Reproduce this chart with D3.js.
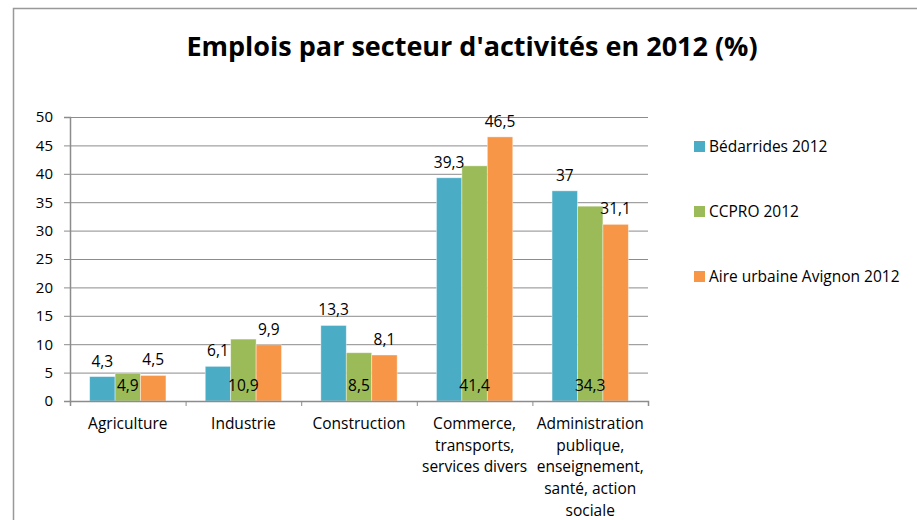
<html>
<head>
<meta charset="utf-8">
<title>Emplois par secteur</title>
<style type="text/css">
body { margin: 0; background: #fff; }
text { font-family: "Open Sans", "Noto Sans", sans-serif; fill: #000; }
</style>
</head>
<body>
<script src="https://d3js.org/d3.v7.min.js"></script>
<script>

// data
var categories = [
  ["Agriculture"],
  ["Industrie"],
  ["Construction"],
  ["Commerce,", "transports,", "services divers"],
  ["Administration", "publique,", "enseignement,", "santé, action", "sociale"]
];
var series = ["Bédarrides 2012", "CCPRO 2012", "Aire urbaine Avignon 2012"];
var bedarrides = [4.3, 6.1, 13.3, 39.3, 37];
var ccpro = [4.9, 10.9, 8.5, 41.4, 34.3];
var avignon = [4.5, 9.9, 8.1, 46.5, 31.1];
var yTicks = [0, 5, 10, 15, 20, 25, 30, 35, 40, 45, 50];

var values = [bedarrides, ccpro, avignon];
var colors = ["#4bacc6", "#9bbb59", "#f79646"];

var W = 917, H = 520;
var margin = {top: 117, left: 70, right: 269, bottom: 119};
var width = W - margin.left - margin.right,
    height = H - margin.top - margin.bottom;

var svg = d3.select("body").append("svg")
    .attr("width", W)
    .attr("height", H);

// outer frame (only left and top visible)
svg.append("path")
    .attr("d", "M13.5," + H + "V8.5H" + W)
    .attr("fill", "none")
    .attr("stroke", "#999")
    .attr("stroke-width", 1.5);

// title
svg.append("text")
    .attr("x", 472)
    .attr("y", 56)
    .attr("text-anchor", "middle")
    .style("font-weight", "bold")
    .style("font-size", "27px")
    .text("Emplois par secteur d'activités en 2012 (%)");

var g = svg.append("g")
    .attr("transform", "translate(" + margin.left + "," + margin.top + ")");

var x0 = d3.scaleBand()
    .domain(d3.range(categories.length))
    .range([0, width])
    .paddingInner(0.34)
    .paddingOuter(0.17);
var x1 = d3.scaleBand()
    .domain(d3.range(series.length))
    .range([0, x0.bandwidth()]);
var y = d3.scaleLinear()
    .domain([0, 50])
    .range([height, 0]);

// gridlines + y axis
g.append("g")
    .call(d3.axisLeft(y).tickValues(yTicks).tickSize(-width).tickFormat(""))
    .call(function(s) {
      s.select(".domain").remove();
      s.selectAll("line").attr("stroke", "#8c8c8c");
    });
g.append("g")
    .call(d3.axisLeft(y).tickValues(yTicks).tickSize(6).tickPadding(11))
    .call(function(s) {
      s.select(".domain").attr("stroke", "#8c8c8c").attr("stroke-width", 1.5);
      s.selectAll("line").attr("stroke", "#8c8c8c");
      s.selectAll("text").style("font-size", "15px").style("font-family", "'Open Sans', sans-serif");
    });

// bars
var groups = g.selectAll(".cat")
    .data(categories)
    .enter().append("g")
    .attr("transform", function(d, i) { return "translate(" + x0(i) + ",0)"; });

groups.selectAll("rect")
    .data(function(d, i) { return values.map(function(v, k) { return {k: k, v: v[i]}; }); })
    .enter().append("rect")
    .attr("x", function(d) { return x1(d.k); })
    .attr("width", x1.bandwidth())
    .attr("y", function(d) { return y(d.v); })
    .attr("height", function(d) { return height - y(d.v); })
    .attr("fill", function(d) { return colors[d.k]; })
    .attr("stroke", "#fff")
    .attr("stroke-opacity", 0.5)
    .attr("stroke-width", 0.8);

// value labels: blue and orange above, green inside at the bottom
groups.selectAll(".lbl")
    .data(function(d, i) { return values.map(function(v, k) { return {k: k, v: v[i]}; }); })
    .enter().append("text")
    .attr("class", "lbl")
    .attr("text-anchor", "middle")
    .attr("x", function(d) { return x1(d.k) + x1.bandwidth() / 2; })
    .attr("y", function(d) { return d.k === 1 ? height - 10 : y(d.v) - 10; })
    .style("font-size", "15.5px")
    .text(function(d) { return String(d.v).replace(".", ","); });

// x axis
g.append("g")
    .attr("transform", "translate(0," + height + ")")
    .call(d3.axisBottom(d3.scaleLinear().domain([0, categories.length]).range([0, width]))
      .tickValues(d3.range(categories.length + 1)).tickSize(5).tickFormat(""))
    .call(function(s) {
      s.select(".domain").attr("stroke", "#8c8c8c").attr("stroke-width", 1.5);
      s.selectAll("line").attr("stroke", "#8c8c8c");
    });

groups.append("text")
    .attr("text-anchor", "middle")
    .attr("transform", "translate(" + (x0.bandwidth() / 2) + "," + (height + 28) + ")")
    .style("font-size", "15.5px")
    .selectAll("tspan")
    .data(function(d) { return d; })
    .enter().append("tspan")
    .attr("x", 0)
    .attr("dy", function(d, i) { return i ? 21.7 : 0; })
    .text(function(d) { return d; });

// legend
var legend = svg.append("g")
    .selectAll("g")
    .data(series)
    .enter().append("g")
    .attr("transform", function(d, i) { return "translate(694," + (141 + i * 65) + ")"; });
legend.append("rect")
    .attr("width", 11)
    .attr("height", 11)
    .attr("fill", function(d, i) { return colors[i]; });
legend.append("text")
    .attr("x", 15)
    .attr("y", 11)
    .style("font-size", "15.5px")
    .text(function(d) { return d; });

</script>
</body>
</html>
